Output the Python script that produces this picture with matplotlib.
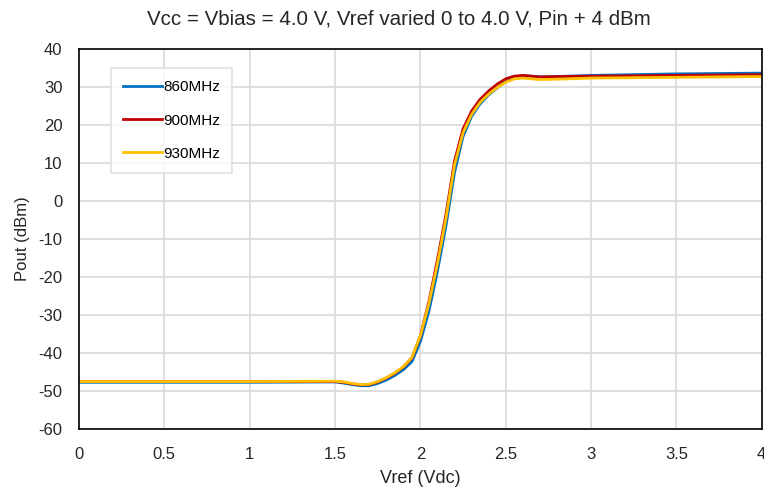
import matplotlib
matplotlib.use("Agg")
import matplotlib.pyplot as plt

# Vref sweep (V)
vref = [0, 0.5, 1.0, 1.5, 1.55, 1.6, 1.65, 1.7, 1.75, 1.8, 1.85, 1.9, 1.95, 2.0,
        2.05, 2.1, 2.15, 2.2, 2.25, 2.3, 2.35, 2.4, 2.45, 2.5, 2.55, 2.6, 2.65,
        2.7, 2.8, 3.0, 3.5, 4.0]

# Pout (dBm) per frequency
pout_860 = [-47.7, -47.7, -47.7, -47.6, -47.9, -48.3, -48.6, -48.6, -48.0, -47.1,
            -45.9, -44.4, -42.3, -37.0, -29.0, -18.5, -6.5, 7.5, 17.0, 22.3, 25.6,
            28.0, 29.8, 31.5, 32.6, 33.0, 32.9, 32.7, 32.8, 33.1, 33.5, 33.7]
pout_900 = [-47.5, -47.5, -47.5, -47.5, -47.7, -48.1, -48.4, -48.3, -47.6, -46.6,
            -45.3, -43.7, -41.3, -35.5, -26.5, -15.5, -3.5, 10.5, 19.0, 23.7, 26.8,
            29.0, 30.8, 32.2, 32.9, 33.1, 32.9, 32.7, 32.8, 32.9, 33.1, 33.3]
pout_930 = [-47.5, -47.5, -47.5, -47.4, -47.6, -48.0, -48.3, -48.2, -47.5, -46.5,
            -45.2, -43.6, -41.2, -35.5, -27.0, -16.5, -4.5, 9.5, 18.0, 22.8, 26.0,
            28.2, 29.9, 31.3, 32.2, 32.4, 32.2, 32.0, 32.1, 32.4, 32.6, 32.8]

labels = ["860MHz", "900MHz", "930MHz"]
colors = ["#0070C0", "#C00000", "#FFC000"]

xticks = [0, 0.5, 1, 1.5, 2, 2.5, 3, 3.5, 4]
yticks = list(range(-60, 41, 10))

font = ["Liberation Sans", "DejaVu Sans"]

fig = plt.figure(figsize=(7.64, 4.92), dpi=100)
ax = fig.add_axes([0.1034, 0.128, 0.8936, 0.772])

for y, lab, c in zip([pout_860, pout_900, pout_930], labels, colors):
    ax.plot(vref, y, color=c, lw=2.0, label=lab, solid_joinstyle="round")

ax.set_xlim(0, 4)
ax.set_ylim(-60, 40)
ax.set_xticks(xticks)
ax.set_xticklabels([f"{t:g}" for t in xticks], family=font, fontsize=12)
ax.set_yticks(yticks)
ax.set_yticklabels([str(t) for t in yticks], family=font, fontsize=12)
ax.tick_params(length=0, colors="#262626")
ax.tick_params(axis="x", pad=13)
ax.tick_params(axis="y", pad=12)
ax.grid(True, color="#d9d9d9", lw=1.2)
ax.set_axisbelow(True)
for s in ax.spines.values():
    s.set_color("black")
    s.set_linewidth(1.2)

ax.set_xlabel("Vref (Vdc)", family=font, fontsize=13, color="#262626", labelpad=6)
ax.set_ylabel("Pout (dBm)", family=font, fontsize=12, color="#262626", labelpad=6)
fig.text(0.522, 0.962, "Vcc = Vbias = 4.0 V, Vref varied 0 to 4.0 V, Pin + 4 dBm",
         ha="center", va="center", family=font, fontsize=14.8, color="#262626")

leg = ax.legend(loc="upper left", bbox_to_anchor=(0.047, 0.95),
                prop={"family": font, "size": 11},
                frameon=True, fancybox=False, edgecolor="#d9d9d9",
                labelspacing=1.25, handlelength=2.5, handletextpad=0.1,
                borderpad=0.8, borderaxespad=0)
leg.get_frame().set_linewidth(1.2)

fig.savefig("out.png", dpi=100)
